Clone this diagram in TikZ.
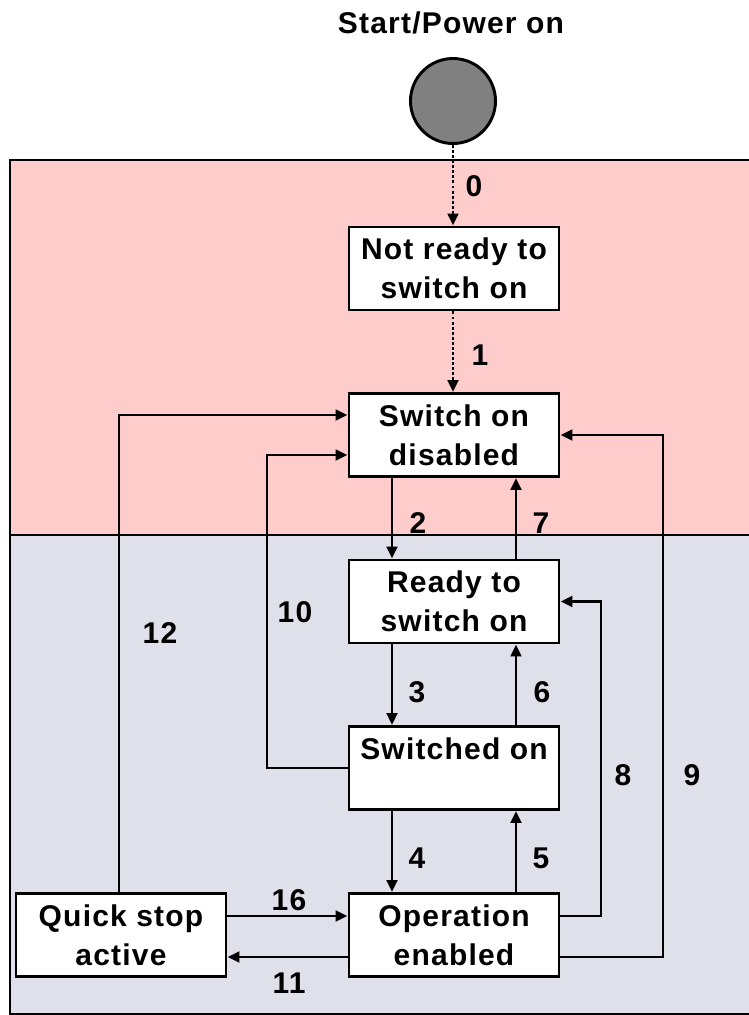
\documentclass[tikz,border=0pt]{standalone}
\usepackage{fontspec}
\setmainfont{Liberation Sans}[LetterSpace=4]
\usetikzlibrary{
    positioning,
    arrows.meta
}
\definecolor{zonered}{HTML}{FFCCCC}
\definecolor{zoneblue}{HTML}{E0E0EA}
\definecolor{startgray}{HTML}{808080}
\tikzset{
    >={Triangle[length=9pt,width=8pt]},
    every node/.style={
        font=\fontsize{22.5}{29.5}\selectfont\bfseries
    },
    statebox/.style={
        draw,
        fill=white,
        line width=2.2pt,
        minimum width=157.5pt,
        minimum height=62.25pt,
        inner sep=1pt,
        align=center
    },
    startnode/.style={
        circle,
        draw,
        fill=startgray,
        line width=2.2pt,
        minimum size=63.75pt
    },
    trans/.style={
        ->,
        line width=2.2pt
    },
    powerup/.style={
        trans,
        dash pattern=on 2.2pt off 1.6pt
    }
}

\begin{document}
\begin{tikzpicture}[
    x=0.75pt,
    y=-0.75pt
]
    \useasboundingbox (0,0) rectangle (749,1015);

    % Bereiche
    \fill[zonered]  (10,160) rectangle (749,535);
    \fill[zoneblue] (10,535) rectangle (749,1014);
    \draw[line width=2pt] (749,160) -- (10,160) -- (10,1014) -- (749,1014);
    \draw[line width=2pt] (10,535) -- (749,535);

    % Start
    \node              (title) at (451,23)    {Start/Power on};
    \node[startnode]   (start) at (453,101)   {};

    % Zustaende
    \node[statebox]    (nr)    at (454,268.5) {Not ready to\\switch on};
    \node[statebox]    (sod)   at (454,435)   {Switch on\\disabled};
    \node[statebox]    (rtso)  at (454,601.5) {Ready to\\switch on};
    \node[statebox]    (so)    at (454,768)   {Switched on\\\mbox{}};
    \node[statebox]    (oe)    at (454,935)   {Operation\\enabled};
    \node[statebox]    (qs)    at (121,935)   {Quick stop\\active};

    % Hilfslinien
    \coordinate (cl)  at (392,0);
    \coordinate (cr)  at (516,0);
    \coordinate (c12) at (119,0);
    \coordinate (c10) at (267,0);
    \coordinate (c8)  at (601,0);
    \coordinate (c9)  at (663,0);
    \coordinate (r12) at (0,415);
    \coordinate (r10) at (0,455);
    \coordinate (r16) at (0,916);
    \coordinate (r11) at (0,957);

    % Uebergaenge
    \draw[powerup] (start.south) -- (start.south |- nr.north);
    \draw[powerup] (nr.south -| start) -- (start |- sod.north);

    % 2, 3, 4: nach unten
    \draw[trans] (cl |- sod.south)  -- (cl |- rtso.north);
    \draw[trans] (cl |- rtso.south) -- (cl |- so.north);
    \draw[trans] (cl |- so.south)   -- (cl |- oe.north);

    % 5, 6, 7: nach oben
    \draw[trans] (cr |- oe.north)   -- (cr |- so.south);
    \draw[trans] (cr |- so.north)   -- (cr |- rtso.south);
    \draw[trans] (cr |- rtso.north) -- (cr |- sod.south);

    % 8, 9: rechts
    \draw[trans] (oe.east |- r16) -| (c8 |- rtso.east) -- (rtso.east);
    \draw[trans] (oe.east |- r11) -| (c9 |- sod.east) -- (sod.east);

    % 10, 12: links
    \draw[trans] (so.west) -| (c10 |- r10) -- (sod.west |- r10);
    \draw[trans] (c12 |- qs.north) |- (sod.west |- r12);

    % 11, 16: Quick stop
    \draw[trans] (qs.east |- r16) -- (oe.west |- r16);
    \draw[trans] (oe.west |- r11) -- (qs.east |- r11);

    % Nummern
    \node (n0)  at (474,186) {0};
    \node (n1)  at (480,355) {1};
    \node (n2)  at (418,523) {2};
    \node (n7)  at (541,523) {7};
    \node (n3)  at (417,692) {3};
    \node (n6)  at (542,692) {6};
    \node (n4)  at (417,858) {4};
    \node (n5)  at (541,858) {5};
    \node (n8)  at (623,775) {8};
    \node (n9)  at (692,775) {9};
    \node (n10) at (295,612) {10};
    \node (n12) at (160,633) {12};
    \node (n16) at (289,900) {16};
    \node (n11) at (289,983) {11};

\end{tikzpicture}
\end{document}
